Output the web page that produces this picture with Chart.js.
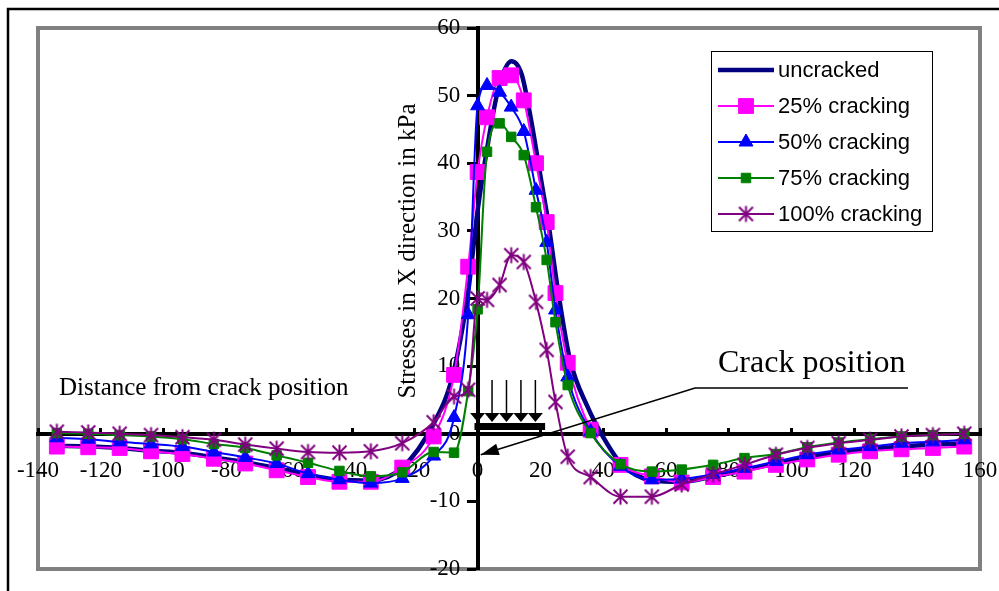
<!DOCTYPE html>
<html>
<head>
<meta charset="utf-8">
<script src="https://cdn.jsdelivr.net/npm/chart.js@4.4.0/dist/chart.umd.min.js"></script>
<style>
  html, body { margin: 0; padding: 0; background: #fff; }
</style>
</head>
<body>
<canvas id="stressChart" width="999" height="591"></canvas>
<script>
// distance from crack position for the nodes with markers
const distance = [-134, -124, -114, -104, -94, -84, -74, -64, -54, -44, -34, -24, -14,
    -7.5, -3, 0, 3, 7, 10.7, 14.7, 18.6, 22, 24.8, 28.7, 36,
    45.5, 55.5, 65, 75, 85, 95, 105, 115, 125, 135, 145, 155];

const cracking25 = [-1.9, -2.0, -2.1, -2.6, -3.0, -3.7, -4.4, -5.4, -6.4, -7.1, -7.1, -5.0, -0.4,
    8.7, 24.7, 38.7, 46.8, 52.6, 53.0, 49.3, 40.0, 31.3, 20.8, 10.5, 0.6,
    -4.6, -6.3, -7.2, -6.4, -5.6, -4.6, -3.8, -3.1, -2.6, -2.3, -2.1, -1.9];
const cracking50 = [-0.6, -0.8, -1.2, -1.5, -1.9, -2.7, -3.5, -4.4, -5.9, -6.8, -7.3, -6.6, -3.3,
    2.4, 17.6, 48.5, 51.5, 50.5, 48.3, 44.7, 36.0, 28.3, 18.3, 8.4, 0.3,
    -4.8, -6.8, -6.7, -6.0, -5.1, -4.1, -3.1, -2.4, -1.9, -1.4, -1.2, -0.9];
const cracking75 = [0.1, 0.0, -0.2, -0.4, -0.8, -1.5, -2.1, -3.2, -4.3, -5.5, -6.3, -5.7, -2.7,
    -2.8, 6.3, 18.4, 41.7, 45.9, 43.9, 41.2, 33.5, 25.7, 16.5, 7.2, 0.1,
    -4.5, -5.6, -5.3, -4.6, -3.6, -3.0, -2.0, -1.3, -0.8, -0.4, -0.2, 0.0];
const cracking100 = [0.3, 0.2, 0.0, -0.2, -0.5, -0.9, -1.6, -2.2, -2.7, -2.8, -2.6, -1.4, 1.7,
    5.5, 6.5, 20.0, 19.8, 22.0, 26.4, 25.4, 19.5, 12.4, 4.7, -3.4, -6.4,
    -9.3, -9.3, -7.5, -6.0, -4.6, -3.1, -2.1, -1.4, -0.9, -0.4, -0.2, 0.0];

// uncracked curve (no markers)
const uncrackedX = [-134, -124, -114, -104, -94, -84, -74, -64, -54, -44, -34, -24, -14,
    -8, -3, 0, 3.5, 6.5, 10.8, 14, 17, 20.6, 22.5, 25.5, 29.4, 35, 40,
    45.5, 55.5, 65, 75, 85, 95, 105, 115, 125, 135, 145, 155];
const uncracked = [-1.8, -1.9, -2.1, -2.5, -2.8, -3.5, -4.2, -5.1, -6.1, -6.8, -6.9, -5.0, 1.5,
    8.5, 21, 33, 43.5, 50.8, 55.1, 53.2, 46.5, 36.5, 31.3, 21.5, 11, 4.0, -0.5,
    -4.3, -6.9, -7.1, -6.3, -5.4, -4.4, -3.5, -2.8, -2.3, -1.9, -1.6, -1.4];

const seriesNames = ['uncracked', '25% cracking', '50% cracking', '75% cracking', '100% cracking'];
const xRange = [-140, 160];
const yRange = [-20, 60];
const xTitle = 'Distance from crack position';
const yTitle = 'Stresses in X direction in kPa';
const crackLabel = 'Crack position';
const loadPositions = [0, 4.6, 9.2, 13.8, 18.4];

function toPoints(xs, ys) {
    return xs.map((x, i) => ({ x: x, y: ys[i] }));
}

// Excel style star marker: X with a vertical bar
function starMarker(size, color) {
    const c = document.createElement('canvas');
    c.width = size;
    c.height = size;
    const g = c.getContext('2d');
    const m = size / 2;
    const d = m - 2.5;
    g.strokeStyle = color;
    g.lineWidth = 2;
    g.beginPath();
    g.moveTo(m - d, m - d); g.lineTo(m + d, m + d);
    g.moveTo(m + d, m - d); g.lineTo(m - d, m + d);
    g.moveTo(m, m - d - 1); g.lineTo(m, m + d + 1);
    g.stroke();
    return c;
}

const star = starMarker(19, '#800080');

const datasets = [{
    label: seriesNames[0],
    data: toPoints(uncrackedX, uncracked),
    borderColor: '#000080',
    borderWidth: 4.5,
    pointRadius: 0,
    order: 5
}, {
    label: seriesNames[1],
    data: toPoints(distance, cracking25),
    borderColor: '#FF00FF',
    backgroundColor: '#FF00FF',
    borderWidth: 2,
    pointStyle: 'rect',
    pointRadius: 10.5,
    pointBorderWidth: 1,
    order: 4
}, {
    label: seriesNames[2],
    data: toPoints(distance, cracking50),
    borderColor: '#0000FF',
    backgroundColor: '#0000FF',
    borderWidth: 2,
    pointStyle: 'triangle',
    pointRadius: 8,
    pointBorderWidth: 1,
    order: 3
}, {
    label: seriesNames[3],
    data: toPoints(distance, cracking75),
    borderColor: '#008000',
    backgroundColor: '#008000',
    borderWidth: 2,
    pointStyle: 'rect',
    pointRadius: 6.7,
    pointBorderWidth: 1,
    order: 2
}, {
    label: seriesNames[4],
    data: toPoints(distance, cracking100),
    borderColor: '#800080',
    backgroundColor: '#800080',
    borderWidth: 2,
    pointStyle: star,
    pointRadius: 9,
    order: 1
}];

const decorations = {
    id: 'decorations',
    beforeDraw(chart) {
        const { ctx, chartArea: a } = chart;
        ctx.save();
        ctx.fillStyle = '#fff';
        ctx.fillRect(0, 0, chart.width, chart.height);
        // outer frame
        ctx.strokeStyle = '#000';
        ctx.lineWidth = 2.5;
        ctx.strokeRect(8, 9, chart.width + 20, chart.height + 20);
        // plot area border
        ctx.strokeStyle = '#808080';
        ctx.lineWidth = 4;
        ctx.strokeRect(a.left, a.top, a.right - a.left, a.bottom - a.top);
        ctx.restore();
    },
    beforeDatasetsDraw(chart) {
        const ctx = chart.ctx;
        ctx.save();
        ctx.fillStyle = '#000';
        ctx.font = '25px "Liberation Serif"';
        ctx.textAlign = 'left';
        ctx.textBaseline = 'alphabetic';
        ctx.fillText(xTitle, 59, 395);
        ctx.translate(415, 251);
        ctx.rotate(-Math.PI / 2);
        ctx.textAlign = 'center';
        ctx.fillText(yTitle, 0, 0);
        ctx.restore();
    },
    afterDatasetsDraw(chart) {
        const ctx = chart.ctx;
        const xs = chart.scales.x;
        const ys = chart.scales.y;
        ctx.save();

        // load arrows above the crack
        ctx.fillStyle = '#000';
        ctx.strokeStyle = '#000';
        ctx.lineWidth = 1.5;
        loadPositions.forEach(v => {
            const px = xs.getPixelForValue(v);
            ctx.beginPath();
            ctx.moveTo(px, 380);
            ctx.lineTo(px, 414);
            ctx.stroke();
            ctx.beginPath();
            ctx.moveTo(px - 7.5, 413);
            ctx.lineTo(px + 7.5, 413);
            ctx.lineTo(px, 422);
            ctx.closePath();
            ctx.fill();
        });
        const bx0 = xs.getPixelForValue(-1);
        const bx1 = xs.getPixelForValue(21.5);
        ctx.fillRect(bx0, 423, bx1 - bx0, 7);

        // crack position label and arrow
        const tipX = xs.getPixelForValue(1);
        const tipY = ys.getPixelForValue(-3.1);
        const kneeX = 695, kneeY = 388;
        ctx.lineWidth = 1.6;
        ctx.beginPath();
        ctx.moveTo(908, kneeY);
        ctx.lineTo(kneeX, kneeY);
        ctx.lineTo(tipX, tipY);
        ctx.stroke();
        const ang = Math.atan2(kneeY - tipY, kneeX - tipX);
        const hl = 18, hw = 6;
        ctx.beginPath();
        ctx.moveTo(tipX, tipY);
        ctx.lineTo(tipX + hl * Math.cos(ang) - hw * Math.sin(ang), tipY + hl * Math.sin(ang) + hw * Math.cos(ang));
        ctx.lineTo(tipX + hl * Math.cos(ang) + hw * Math.sin(ang), tipY + hl * Math.sin(ang) - hw * Math.cos(ang));
        ctx.closePath();
        ctx.fill();
        ctx.font = '32px "Liberation Serif"';
        ctx.textAlign = 'left';
        ctx.textBaseline = 'alphabetic';
        ctx.fillText(crackLabel, 718, 372);

        // legend
        ctx.fillStyle = '#fff';
        ctx.fillRect(711.5, 51.5, 221, 180);
        ctx.strokeStyle = '#000';
        ctx.lineWidth = 1;
        ctx.strokeRect(711.5, 51.5, 221, 180);
        chart.data.datasets.forEach((ds, i) => {
            const y = 70 + 36 * i;
            ctx.strokeStyle = ds.borderColor;
            ctx.lineWidth = ds.borderWidth;
            ctx.beginPath();
            ctx.moveTo(718, y);
            ctx.lineTo(774, y);
            ctx.stroke();
            if (ds.pointRadius > 0) {
                ctx.fillStyle = ds.backgroundColor;
                ctx.lineWidth = ds.pointBorderWidth || 1;
                Chart.helpers.drawPoint(ctx, {
                    pointStyle: ds.pointStyle,
                    rotation: 0,
                    radius: ds.pointRadius,
                    borderWidth: ds.pointBorderWidth || 1
                }, 746, y);
            }
            ctx.fillStyle = '#000';
            ctx.font = '22px "Liberation Sans"';
            ctx.textBaseline = 'middle';
            ctx.fillText(ds.label, 778, y + 1);
        });
        ctx.restore();
    }
};

const tickFont = { family: 'Liberation Serif', size: 23 };

new Chart(document.getElementById('stressChart'), {
    type: 'line',
    data: { datasets: datasets },
    options: {
        responsive: false,
        animation: false,
        cubicInterpolationMode: 'monotone',
        layout: { padding: { left: 38, right: 19, top: 28, bottom: 22 } },
        plugins: {
            legend: { display: false },
            tooltip: { enabled: false }
        },
        scales: {
            x: {
                type: 'linear',
                min: xRange[0],
                max: xRange[1],
                position: { y: 0 },
                border: { display: true, color: '#000', width: 4 },
                grid: { drawOnChartArea: false, tickLength: -8, tickWidth: 3, tickColor: '#000' },
                ticks: {
                    stepSize: 20,
                    autoSkip: false,
                    maxRotation: 0,
                    padding: 0,
                    color: '#000',
                    font: { family: 'Liberation Serif', size: 23, lineHeight: 3.95 }
                }
            },
            y: {
                type: 'linear',
                min: yRange[0],
                max: yRange[1],
                position: { x: 0 },
                border: { display: true, color: '#000', width: 4 },
                grid: { drawOnChartArea: false, tickLength: 9, tickWidth: 3, tickColor: '#000' },
                ticks: {
                    stepSize: 10,
                    padding: 0,
                    color: '#000',
                    font: tickFont,
                    callback: v => v + '   '
                }
            }
        }
    },
    plugins: [decorations]
});
</script>
</body>
</html>
